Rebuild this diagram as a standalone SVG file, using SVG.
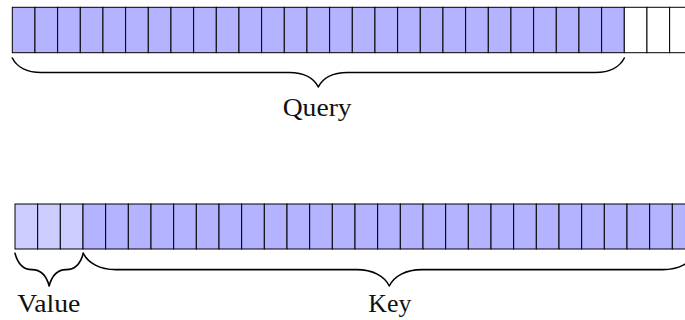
<svg xmlns="http://www.w3.org/2000/svg" xmlns:xlink="http://www.w3.org/1999/xlink" width="685" height="320" viewBox="0 0 685 320">
  <style>
    .cell { stroke: #000; stroke-width: 1; }
    .q { fill: #b3b3ff; }
    .k { fill: #b3b3ff; }
    .v { fill: #ccccff; }
    .e { fill: #ffffff; }
    .brace { fill: none; stroke: #000; stroke-width: 1.6; stroke-linecap: round; stroke-linejoin: round; }
    .lbl { font-family: "Liberation Serif", "DejaVu Serif", serif; font-size: 25px; fill: #111; }
  </style>
  <defs>
    <rect id="qc" width="22.667" height="45.4"/>
    <rect id="kc" width="22.667" height="45"/>
  </defs>

  <!-- upper row: 27 query cells followed by empty cells -->
  <g id="query-row" class="cell">
    <g class="q">
      <use href="#qc" x="12.3" y="7.3"/><use href="#qc" x="34.97" y="7.3"/><use href="#qc" x="57.63" y="7.3"/>
      <use href="#qc" x="80.3" y="7.3"/><use href="#qc" x="102.97" y="7.3"/><use href="#qc" x="125.63" y="7.3"/>
      <use href="#qc" x="148.3" y="7.3"/><use href="#qc" x="170.97" y="7.3"/><use href="#qc" x="193.63" y="7.3"/>
      <use href="#qc" x="216.3" y="7.3"/><use href="#qc" x="238.97" y="7.3"/><use href="#qc" x="261.63" y="7.3"/>
      <use href="#qc" x="284.3" y="7.3"/><use href="#qc" x="306.97" y="7.3"/><use href="#qc" x="329.63" y="7.3"/>
      <use href="#qc" x="352.3" y="7.3"/><use href="#qc" x="374.97" y="7.3"/><use href="#qc" x="397.63" y="7.3"/>
      <use href="#qc" x="420.3" y="7.3"/><use href="#qc" x="442.97" y="7.3"/><use href="#qc" x="465.63" y="7.3"/>
      <use href="#qc" x="488.3" y="7.3"/><use href="#qc" x="510.97" y="7.3"/><use href="#qc" x="533.63" y="7.3"/>
      <use href="#qc" x="556.3" y="7.3"/><use href="#qc" x="578.97" y="7.3"/><use href="#qc" x="601.63" y="7.3"/>
    </g>
    <g class="e">
      <use href="#qc" x="624.3" y="7.3"/><use href="#qc" x="646.97" y="7.3"/><use href="#qc" x="669.63" y="7.3"/>
    </g>
  </g>

  <!-- lower row: 3 value cells then 27 key cells -->
  <g id="kv-row" class="cell">
    <g class="v">
      <use href="#kc" x="15" y="204"/><use href="#kc" x="37.67" y="204"/><use href="#kc" x="60.33" y="204"/>
    </g>
    <g class="k">
      <use href="#kc" x="83" y="204"/><use href="#kc" x="105.67" y="204"/><use href="#kc" x="128.33" y="204"/>
      <use href="#kc" x="151" y="204"/><use href="#kc" x="173.67" y="204"/><use href="#kc" x="196.33" y="204"/>
      <use href="#kc" x="219" y="204"/><use href="#kc" x="241.67" y="204"/><use href="#kc" x="264.33" y="204"/>
      <use href="#kc" x="287" y="204"/><use href="#kc" x="309.67" y="204"/><use href="#kc" x="332.33" y="204"/>
      <use href="#kc" x="355" y="204"/><use href="#kc" x="377.67" y="204"/><use href="#kc" x="400.33" y="204"/>
      <use href="#kc" x="423" y="204"/><use href="#kc" x="445.67" y="204"/><use href="#kc" x="468.33" y="204"/>
      <use href="#kc" x="491" y="204"/><use href="#kc" x="513.67" y="204"/><use href="#kc" x="536.33" y="204"/>
      <use href="#kc" x="559" y="204"/><use href="#kc" x="581.67" y="204"/><use href="#kc" x="604.33" y="204"/>
      <use href="#kc" x="627" y="204"/><use href="#kc" x="649.67" y="204"/><use href="#kc" x="672.33" y="204"/>
    </g>
  </g>

  <!-- curly braces under the rows -->
  <g id="braces" class="brace">
    <path id="query-brace" d="M12.3,58 C16.65,66.7 26.8,72.5 41.3,72.5 L289.3,72.5 C303.8,72.5 313.95,78.3 318.3,87 C322.65,78.3 332.8,72.5 347.3,72.5 L595.3,72.5 C609.8,72.5 619.95,66.7 624.3,58"/>
    <path id="value-brace" d="M15,253.3 C17.55,263.1 23.5,269.65 32,269.65 C40.65,269.65 46.6,276.2 49.15,286 C51.7,276.2 57.65,269.65 66.15,269.65 C74.8,269.65 80.75,263.1 83.3,253.3"/>
    <path id="key-brace" d="M83.3,253.3 C88.2,263.1 99.65,269.65 116,269.65 L356.6,269.65 C372.95,269.65 384.4,276.2 389.3,286 C394.2,276.2 405.65,269.65 422,269.65 L662.6,269.65 C678.95,269.65 690.4,263.1 695.3,253.3"/>
  </g>

  <!-- labels -->
  <g id="labels" class="lbl">
    <text id="query-label" x="282.7" y="115.5" textLength="69" lengthAdjust="spacingAndGlyphs">Query</text>
    <text id="value-label" x="17.3" y="311.5" textLength="63" lengthAdjust="spacingAndGlyphs">Value</text>
    <text id="key-label" x="368.3" y="311.5" textLength="43" lengthAdjust="spacingAndGlyphs">Key</text>
  </g>
</svg>
